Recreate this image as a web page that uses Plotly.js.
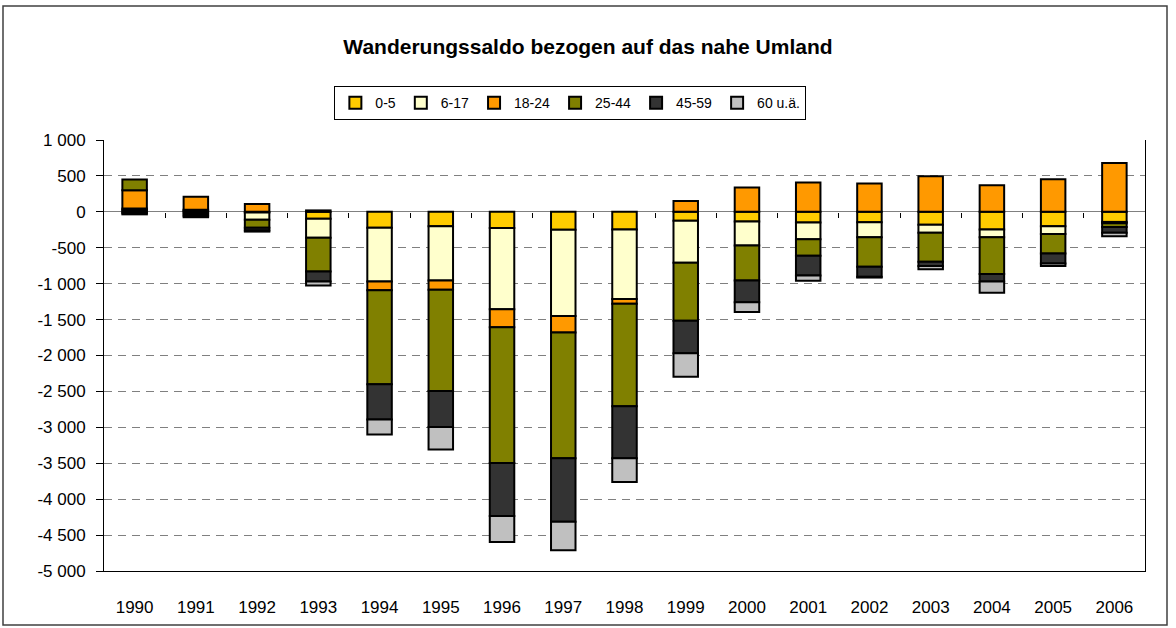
<!DOCTYPE html>
<html>
<head>
<meta charset="utf-8">
<script src="https://cdn.plot.ly/plotly-3.0.1.min.js"></script>
<style>html,body{margin:0;padding:0;background:#fff;} #chart{width:1176px;height:628px;}</style>
</head>
<body>
<div id="chart"></div>
<script>
const categories = ['1990','1991','1992','1993','1994','1995','1996','1997','1998','1999','2000','2001','2002','2003','2004','2005','2006'];
const seriesNames = ['0-5','6-17','18-24','25-44','45-59','60 u.ä.'];
const v05   = [25, 15, -10, -95, -220, -200, -225, -250, -245, -125, -135, -150, -145, -180, -245, -200, -140];
const v617  = [20, 15, -100, -265, -750, -755, -1130, -1200, -970, -585, -335, -230, -210, -110, -110, -110, -20];
const v1824 = [255, 180, 110, 20, -120, -130, -250, -230, -65, 150, 340, 410, 395, 495, 370, 455, 680];
const v2544 = [150, -25, -110, -470, -1310, -1410, -1890, -1750, -1425, -805, -485, -230, -410, -405, -510, -270, -50];
const v4559 = [-20, -30, -40, -140, -490, -500, -740, -885, -725, -455, -305, -275, -140, -60, -105, -140, -80];
const v60   = [-15, -20, -15, -55, -210, -315, -360, -395, -330, -325, -135, -75, -10, -45, -155, -35, -50];
const yTickVals = [1000, 500, 0, -500, -1000, -1500, -2000, -2500, -3000, -3500, -4000, -4500, -5000];
const yTickText = ['1 000', '500', '0', '-500', '-1 000', '-1 500', '-2 000', '-2 500', '-3 000', '-3 500', '-4 000', '-4 500', '-5 000'];
const boundaryTicks = [0.5,1.5,2.5,3.5,4.5,5.5,6.5,7.5,8.5,9.5,10.5,11.5,12.5,13.5,14.5,15.5];

const colors = ['#FFCC00', '#FFFFCC', '#FF9900', '#808000', '#333333', '#C0C0C0'];
const values = [v05, v617, v1824, v2544, v4559, v60];

const font = 'Liberation Sans, Arial, sans-serif';
const traces = values.map((v, i) => ({
  type: 'bar',
  name: seriesNames[i],
  x: categories,
  y: v,
  marker: {color: colors[i], line: {color: '#000000', width: 2}},
  hoverinfo: 'x+y+name'
}));
traces.push({type: 'scatter', x: [], y: [], xaxis: 'x2', yaxis: 'y', showlegend: false, hoverinfo: 'skip'});

const layout = {
  width: 1176, height: 628,
  margin: {l: 104, r: 31, t: 140, b: 57},
  paper_bgcolor: '#ffffff', plot_bgcolor: '#ffffff',
  font: {family: font, size: 16, color: '#000000'},
  barmode: 'relative',
  bargap: 0.6,
  title: {
    text: '<b>Wanderungssaldo bezogen auf das nahe Umland</b>',
    font: {family: font, size: 21, color: '#000000'},
    x: 0.5, xref: 'container', xanchor: 'center',
    y: 1 - 47/628, yref: 'container', yanchor: 'middle'
  },
  showlegend: true,
  legend: {
    orientation: 'h',
    x: 0.448, xanchor: 'center',
    y: 1.125, yanchor: 'top',
    bordercolor: '#000000', borderwidth: 1, bgcolor: '#ffffff',
    font: {family: font, size: 14, color: '#000000'},
    itemwidth: 30,
    traceorder: 'normal'
  },
  xaxis: {
    type: 'category',
    range: [-0.5, 16.5],
    showline: true, linecolor: '#000000', linewidth: 1,
    showgrid: false, zeroline: false,
    ticks: 'outside', ticklen: 0, ticklabelstandoff: 21,
    tickfont: {family: font, size: 17, color: '#000000'},
    fixedrange: true
  },
  xaxis2: {
    overlaying: 'x', anchor: 'free', position: 5000/6000,
    range: [-0.5, 16.5], type: 'linear',
    tickvals: boundaryTicks, ticks: 'outside', ticklen: 5, tickcolor: '#000000', tickwidth: 1,
    showticklabels: false, showgrid: false, zeroline: false, showline: false,
    fixedrange: true
  },
  yaxis: {
    range: [-5000, 1000],
    tickvals: yTickVals, ticktext: yTickText,
    showline: true, linecolor: '#000000', linewidth: 1, mirror: true,
    ticks: 'outside', ticklen: 7, tickcolor: '#000000', ticklabelstandoff: 7,
    showgrid: true, gridcolor: '#808080', gridwidth: 1, griddash: '8px,6px',
    zeroline: true, zerolinecolor: '#808080', zerolinewidth: 1,
    tickfont: {family: font, size: 17, color: '#000000'},
    fixedrange: true
  },
  shapes: [{
    type: 'rect', xref: 'paper', yref: 'paper',
    x0: (3 - 104) / 1041, x1: (1167 - 104) / 1041,
    y0: -(625 - 571) / 431, y1: 1 + (140 - 6) / 431,
    line: {color: '#404040', width: 1.5}, fillcolor: 'rgba(0,0,0,0)', layer: 'below'
  }]
};

Plotly.newPlot('chart', traces, layout, {displayModeBar: false, staticPlot: true});
</script>
</body>
</html>
